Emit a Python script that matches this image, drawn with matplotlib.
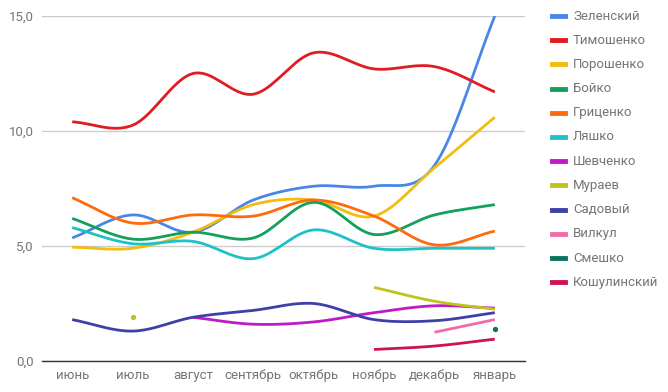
import numpy as np
import matplotlib.pyplot as plt
from matplotlib.lines import Line2D

plt.rcParams['font.family'] = ['Roboto', 'DejaVu Sans']

months = ["июнь", "июль", "август", "сентябрь", "октябрь", "ноябрь", "декабрь", "январь"]
n = None

zelensky    = [5.35, 6.35, 5.6, 7.0, 7.6, 7.6, 8.5, 15.0]
tymoshenko  = [10.4, 10.25, 12.5, 11.6, 13.4, 12.7, 12.8, 11.7]
poroshenko  = [4.95, 4.9, 5.6, 6.8, 7.0, 6.3, 8.4, 10.6]
boyko       = [6.2, 5.3, 5.6, 5.35, 6.9, 5.5, 6.35, 6.8]
grytsenko   = [7.1, 6.0, 6.35, 6.3, 7.0, 6.3, 5.05, 5.65]
lyashko     = [5.8, 5.1, 5.2, 4.45, 5.7, 4.9, 4.9, 4.9]
shevchenko  = [n, n, 1.9, 1.6, 1.7, 2.1, 2.4, 2.3]
muraev      = [n, 1.9, n, n, n, 3.2, 2.6, 2.25]
sadovyi     = [1.8, 1.3, 1.9, 2.2, 2.5, 1.8, 1.75, 2.1]
vilkul      = [n, n, n, n, n, n, 1.25, 1.8]
smeshko     = [n, n, n, n, n, n, n, 1.4]
koshulinsky = [n, n, n, n, n, 0.5, 0.65, 0.95]

names = ["Зеленский", "Тимошенко", "Порошенко", "Бойко", "Гриценко", "Ляшко",
         "Шевченко", "Мураев", "Садовый", "Вилкул", "Смешко", "Кошулинский"]
series = [zelensky, tymoshenko, poroshenko, boyko, grytsenko, lyashko,
          shevchenko, muraev, sadovyi, vilkul, smeshko, koshulinsky]
colors = ["#4a86e8", "#e01b22", "#f4bc0f", "#12a05c", "#ff6a0d", "#1fc1c8",
          "#c01ac6", "#c2c21c", "#3f3fa8", "#f06ba8", "#0b735c", "#cc1452"]


def smooth(xs, ys, k=20):
    # catmull-rom through the points
    if len(xs) < 3:
        return np.array(xs, float), np.array(ys, float)
    px = np.array(xs, float)
    py = np.array(ys, float)
    px = np.concatenate([[2 * px[0] - px[1]], px, [2 * px[-1] - px[-2]]])
    py = np.concatenate([[2 * py[0] - py[1]], py, [2 * py[-1] - py[-2]]])
    ox, oy = [], []
    t = np.linspace(0, 1, k, endpoint=False)
    for i in range(1, len(px) - 2):
        for arr, out in ((px, ox), (py, oy)):
            p0, p1, p2, p3 = arr[i - 1], arr[i], arr[i + 1], arr[i + 2]
            out.extend(0.5 * ((2 * p1) + (-p0 + p2) * t
                              + (2 * p0 - 5 * p1 + 4 * p2 - p3) * t ** 2
                              + (-p0 + 3 * p1 - 3 * p2 + p3) * t ** 3))
    ox.append(px[-2])
    oy.append(py[-2])
    return np.array(ox), np.array(oy)


fig = plt.figure(figsize=(6.68, 3.92), dpi=100)
ax = fig.add_axes([42 / 668, 31 / 392, 483 / 668, 345 / 392])

x = np.arange(len(months))
for vals, c in zip(series, colors):
    segs, cur = [], []
    for xi, v in zip(x, vals):
        if v is None:
            if cur:
                segs.append(cur)
            cur = []
        else:
            cur.append((xi, v))
    if cur:
        segs.append(cur)
    for s in segs:
        xs = [p[0] for p in s]
        ys = [p[1] for p in s]
        if len(s) == 1:
            ax.plot(xs, ys, 'o', color=c, ms=2.8, zorder=3)
        else:
            sx, sy = smooth(xs, ys)
            ax.plot(sx, sy, color=c, lw=2, zorder=3, solid_capstyle='butt')

ax.set_xlim(-0.5, 7.5)
ax.set_ylim(0, 15)
ax.set_xticks(x)
ax.set_xticklabels(months)
ax.set_yticks([0, 5, 10, 15])
ax.set_yticklabels(["0,0", "5,0", "10,0", "15,0"])
ax.tick_params(length=0, labelsize=9.5, colors="#757575", pad=6)
ax.grid(axis='y', color="#cccccc", lw=1)
ax.set_axisbelow(True)
for s in ["top", "right", "left"]:
    ax.spines[s].set_visible(False)
ax.spines["bottom"].set_color("#333333")
ax.spines["bottom"].set_linewidth(1)

# legend
for i, (nm, c) in enumerate(zip(names, colors)):
    yy = 1 - (16 + i * 24.2) / 392
    fig.add_artist(Line2D([552 / 668, 565 / 668], [yy, yy], color=c, lw=3.5,
                          transform=fig.transFigure))
    fig.text(573 / 668, yy, nm, fontsize=9.5, color="#757575", va='center', ha='left')

plt.savefig("out.png", dpi=100)
